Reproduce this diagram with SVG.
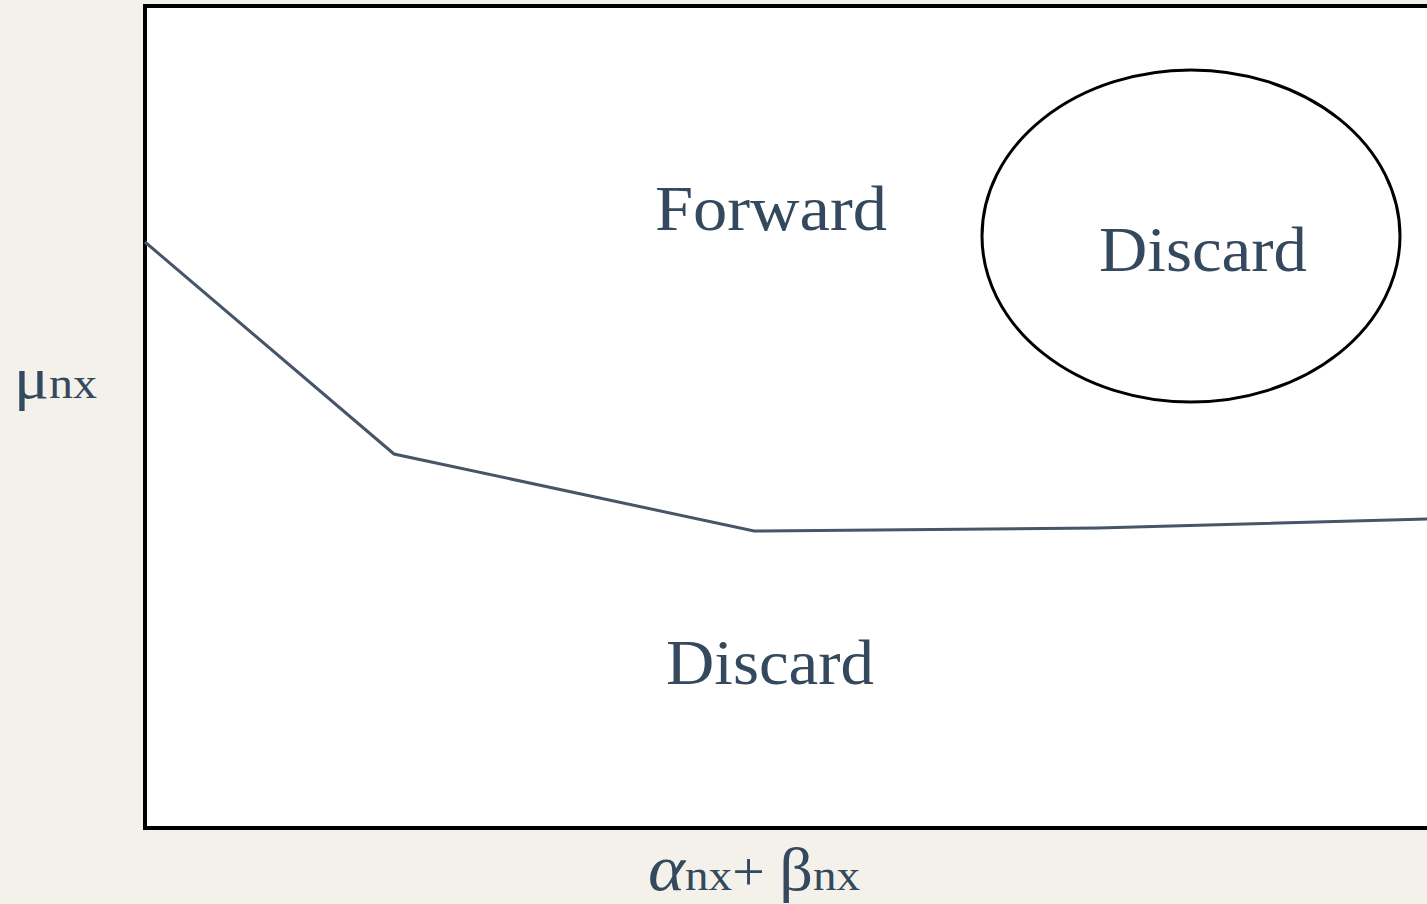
<svg xmlns="http://www.w3.org/2000/svg" width="1427" height="904" viewBox="0 0 1427 904">
<style>
.lbl{font-family:"Liberation Serif","DejaVu Serif",serif;fill:#34495e}
.big{font-size:64px}
</style>
<rect x="0" y="0" width="1427" height="904" fill="#f4f1eb"/>
<g id="plot">
<rect x="145" y="6" width="1300" height="822" fill="#ffffff" stroke="#000" stroke-width="4"/>
</g>
<g id="connectors">
<polyline points="145,242 394,454 754,531 1098,528 1430,519" fill="none" stroke="#475569" stroke-width="3"/>
</g>
<g id="node-forward">
<text class="lbl big" x="655" y="230" textLength="232" lengthAdjust="spacingAndGlyphs">Forward</text>
</g>
<g id="node-discard-ellipse">
<ellipse cx="1191" cy="236" rx="209" ry="166" fill="none" stroke="#000" stroke-width="3"/>
<text class="lbl big" x="1099" y="271" textLength="208" lengthAdjust="spacingAndGlyphs">Discard</text>
</g>
<g id="node-discard-bottom">
<text class="lbl big" x="666" y="684" textLength="208" lengthAdjust="spacingAndGlyphs">Discard</text>
</g>
<g id="axis-y">
<text class="lbl" x="14" y="398" textLength="83" lengthAdjust="spacingAndGlyphs"><tspan font-size="60">μ</tspan><tspan font-size="44">nx</tspan></text>
</g>
<g id="axis-x">
<text class="lbl" x="648" y="890" textLength="212" lengthAdjust="spacingAndGlyphs"><tspan font-size="66" font-style="italic">α</tspan><tspan font-size="44">nx</tspan><tspan font-size="54">+ </tspan><tspan font-size="62">β</tspan><tspan font-size="44">nx</tspan></text>
</g>
</svg>
